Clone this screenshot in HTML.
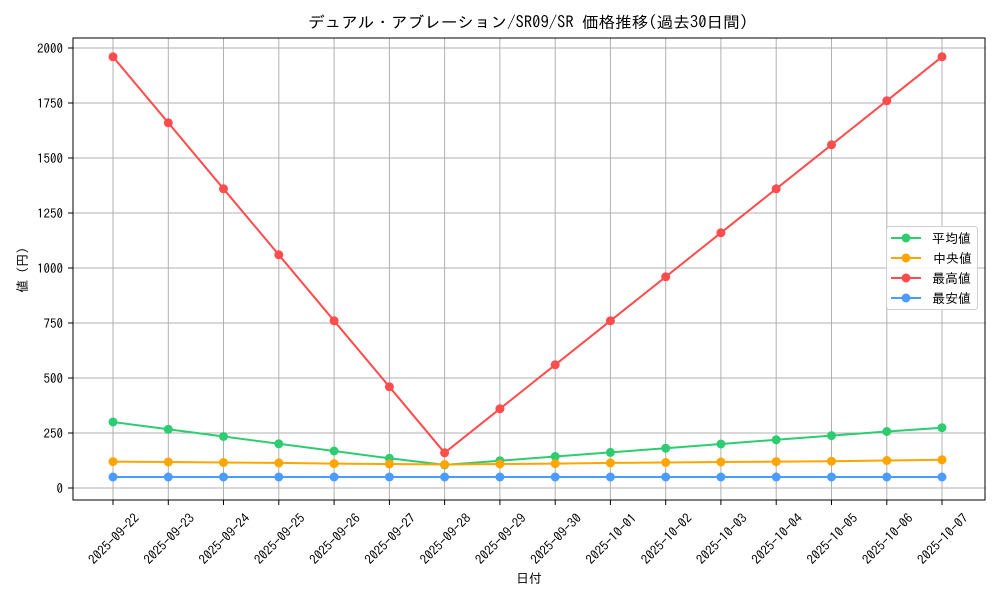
<!DOCTYPE html><html><head><meta charset="utf-8"><style>body{margin:0;background:#fff}svg{display:block;font-family:"IPAGothic","Noto Sans CJK JP",sans-serif}</style></head><body>
<svg width="1000" height="600" xmlns="http://www.w3.org/2000/svg">
<rect width="1000" height="600" fill="#fff"/>
<text x="308" y="28" font-size="16" textLength="440" lengthAdjust="spacingAndGlyphs" fill="#000">デュアル・アブレーション/SR09/SR 価格推移(過去30日間)</text>
<g stroke="#b0b0b0" stroke-width="1">
<line x1="73" x2="985" y1="488" y2="488"/><line x1="73" x2="985" y1="433" y2="433"/><line x1="73" x2="985" y1="378" y2="378"/><line x1="73" x2="985" y1="323" y2="323"/><line x1="73" x2="985" y1="268" y2="268"/><line x1="73" x2="985" y1="213" y2="213"/><line x1="73" x2="985" y1="158" y2="158"/><line x1="73" x2="985" y1="103" y2="103"/><line x1="73" x2="985" y1="48" y2="48"/>
<line x1="113" x2="113" y1="38" y2="500"/><line x1="168.3" x2="168.3" y1="38" y2="500"/><line x1="223.5" x2="223.5" y1="38" y2="500"/><line x1="278.8" x2="278.8" y1="38" y2="500"/><line x1="334.1" x2="334.1" y1="38" y2="500"/><line x1="389.4" x2="389.4" y1="38" y2="500"/><line x1="444.6" x2="444.6" y1="38" y2="500"/><line x1="499.9" x2="499.9" y1="38" y2="500"/><line x1="555.2" x2="555.2" y1="38" y2="500"/><line x1="610.4" x2="610.4" y1="38" y2="500"/><line x1="665.7" x2="665.7" y1="38" y2="500"/><line x1="720.9" x2="720.9" y1="38" y2="500"/><line x1="776.2" x2="776.2" y1="38" y2="500"/><line x1="831.5" x2="831.5" y1="38" y2="500"/><line x1="886.8" x2="886.8" y1="38" y2="500"/><line x1="942" x2="942" y1="38" y2="500"/>
</g>
<rect x="73" y="38" width="912" height="462" fill="none" stroke="#000" stroke-width="1"/>
<g font-size="13" text-anchor="end" fill="#000">
<text x="63" y="493">0</text><text x="63" y="438">250</text><text x="63" y="383">500</text><text x="63" y="328">750</text><text x="63" y="273">1000</text><text x="63" y="218">1250</text><text x="63" y="163">1500</text><text x="63" y="108">1750</text><text x="63" y="53">2000</text>
</g>
<g stroke="#000"><line x1="68" x2="73" y1="488" y2="488"/><line x1="68" x2="73" y1="433" y2="433"/><line x1="68" x2="73" y1="378" y2="378"/><line x1="68" x2="73" y1="323" y2="323"/><line x1="68" x2="73" y1="268" y2="268"/><line x1="68" x2="73" y1="213" y2="213"/><line x1="68" x2="73" y1="158" y2="158"/><line x1="68" x2="73" y1="103" y2="103"/><line x1="68" x2="73" y1="48" y2="48"/>
<line x1="113" x2="113" y1="500" y2="505"/><line x1="168.3" x2="168.3" y1="500" y2="505"/><line x1="223.5" x2="223.5" y1="500" y2="505"/><line x1="278.8" x2="278.8" y1="500" y2="505"/><line x1="334.1" x2="334.1" y1="500" y2="505"/><line x1="389.4" x2="389.4" y1="500" y2="505"/><line x1="444.6" x2="444.6" y1="500" y2="505"/><line x1="499.9" x2="499.9" y1="500" y2="505"/><line x1="555.2" x2="555.2" y1="500" y2="505"/><line x1="610.4" x2="610.4" y1="500" y2="505"/><line x1="665.7" x2="665.7" y1="500" y2="505"/><line x1="720.9" x2="720.9" y1="500" y2="505"/><line x1="776.2" x2="776.2" y1="500" y2="505"/><line x1="831.5" x2="831.5" y1="500" y2="505"/><line x1="886.8" x2="886.8" y1="500" y2="505"/><line x1="942" x2="942" y1="500" y2="505"/></g>
<g font-size="13" text-anchor="middle" fill="#000">
<text transform="translate(117,542) rotate(-45)">2025-09-22</text><text transform="translate(172.3,542) rotate(-45)">2025-09-23</text><text transform="translate(227.5,542) rotate(-45)">2025-09-24</text><text transform="translate(282.8,542) rotate(-45)">2025-09-25</text><text transform="translate(338.1,542) rotate(-45)">2025-09-26</text><text transform="translate(393.4,542) rotate(-45)">2025-09-27</text><text transform="translate(448.6,542) rotate(-45)">2025-09-28</text><text transform="translate(503.9,542) rotate(-45)">2025-09-29</text><text transform="translate(559.2,542) rotate(-45)">2025-09-30</text><text transform="translate(614.4,542) rotate(-45)">2025-10-01</text><text transform="translate(669.7,542) rotate(-45)">2025-10-02</text><text transform="translate(724.9,542) rotate(-45)">2025-10-03</text><text transform="translate(780.2,542) rotate(-45)">2025-10-04</text><text transform="translate(835.5,542) rotate(-45)">2025-10-05</text><text transform="translate(890.8,542) rotate(-45)">2025-10-06</text><text transform="translate(946,542) rotate(-45)">2025-10-07</text>
</g>
<text x="529" y="583" font-size="13" text-anchor="middle">日付</text>
<text transform="translate(27,270) rotate(-90)" font-size="13" text-anchor="middle">値 (円)</text>
<polyline fill="none" stroke="#2ecc71" stroke-width="2" points="113,422 168.3,429.3 223.5,436.5 278.8,443.8 334.1,451 389.4,458.3 444.6,464.9 499.9,460.7 555.2,456.5 610.4,452.4 665.7,448.2 720.9,444 776.2,439.8 831.5,435.6 886.8,431.5 942,427.7"/>
<polyline fill="none" stroke="#ffa500" stroke-width="2" points="113,461.6 168.3,462 223.5,462.5 278.8,462.9 334.1,463.6 389.4,464 444.6,464.5 499.9,464 555.2,463.6 610.4,462.9 665.7,462.5 720.9,462 776.2,461.6 831.5,461.2 886.8,460.5 942,459.8"/>
<polyline fill="none" stroke="#ff4c4c" stroke-width="2" points="113,56.8 168.3,122.8 223.5,188.8 278.8,254.8 334.1,320.8 389.4,386.8 444.6,452.8 499.9,408.8 555.2,364.8 610.4,320.8 665.7,276.8 720.9,232.8 776.2,188.8 831.5,144.8 886.8,100.8 942,56.8"/>
<polyline fill="none" stroke="#4c9bff" stroke-width="2" points="113,477 942,477"/>
<g fill="#2ecc71"><circle cx="113" cy="422" r="4.5"/><circle cx="168.3" cy="429.3" r="4.5"/><circle cx="223.5" cy="436.5" r="4.5"/><circle cx="278.8" cy="443.8" r="4.5"/><circle cx="334.1" cy="451" r="4.5"/><circle cx="389.4" cy="458.3" r="4.5"/><circle cx="444.6" cy="464.9" r="4.5"/><circle cx="499.9" cy="460.7" r="4.5"/><circle cx="555.2" cy="456.5" r="4.5"/><circle cx="610.4" cy="452.4" r="4.5"/><circle cx="665.7" cy="448.2" r="4.5"/><circle cx="720.9" cy="444" r="4.5"/><circle cx="776.2" cy="439.8" r="4.5"/><circle cx="831.5" cy="435.6" r="4.5"/><circle cx="886.8" cy="431.5" r="4.5"/><circle cx="942" cy="427.7" r="4.5"/></g>
<g fill="#ffa500"><circle cx="113" cy="461.6" r="4.5"/><circle cx="168.3" cy="462" r="4.5"/><circle cx="223.5" cy="462.5" r="4.5"/><circle cx="278.8" cy="462.9" r="4.5"/><circle cx="334.1" cy="463.6" r="4.5"/><circle cx="389.4" cy="464" r="4.5"/><circle cx="444.6" cy="464.5" r="4.5"/><circle cx="499.9" cy="464" r="4.5"/><circle cx="555.2" cy="463.6" r="4.5"/><circle cx="610.4" cy="462.9" r="4.5"/><circle cx="665.7" cy="462.5" r="4.5"/><circle cx="720.9" cy="462" r="4.5"/><circle cx="776.2" cy="461.6" r="4.5"/><circle cx="831.5" cy="461.2" r="4.5"/><circle cx="886.8" cy="460.5" r="4.5"/><circle cx="942" cy="459.8" r="4.5"/></g>
<g fill="#ff4c4c"><circle cx="113" cy="56.8" r="4.5"/><circle cx="168.3" cy="122.8" r="4.5"/><circle cx="223.5" cy="188.8" r="4.5"/><circle cx="278.8" cy="254.8" r="4.5"/><circle cx="334.1" cy="320.8" r="4.5"/><circle cx="389.4" cy="386.8" r="4.5"/><circle cx="444.6" cy="452.8" r="4.5"/><circle cx="499.9" cy="408.8" r="4.5"/><circle cx="555.2" cy="364.8" r="4.5"/><circle cx="610.4" cy="320.8" r="4.5"/><circle cx="665.7" cy="276.8" r="4.5"/><circle cx="720.9" cy="232.8" r="4.5"/><circle cx="776.2" cy="188.8" r="4.5"/><circle cx="831.5" cy="144.8" r="4.5"/><circle cx="886.8" cy="100.8" r="4.5"/><circle cx="942" cy="56.8" r="4.5"/></g>
<g fill="#4c9bff"><circle cx="113" cy="477" r="4.5"/><circle cx="168.3" cy="477" r="4.5"/><circle cx="223.5" cy="477" r="4.5"/><circle cx="278.8" cy="477" r="4.5"/><circle cx="334.1" cy="477" r="4.5"/><circle cx="389.4" cy="477" r="4.5"/><circle cx="444.6" cy="477" r="4.5"/><circle cx="499.9" cy="477" r="4.5"/><circle cx="555.2" cy="477" r="4.5"/><circle cx="610.4" cy="477" r="4.5"/><circle cx="665.7" cy="477" r="4.5"/><circle cx="720.9" cy="477" r="4.5"/><circle cx="776.2" cy="477" r="4.5"/><circle cx="831.5" cy="477" r="4.5"/><circle cx="886.8" cy="477" r="4.5"/><circle cx="942" cy="477" r="4.5"/></g>
<rect x="886.5" y="226.5" width="91" height="83" rx="3" fill="#fff" fill-opacity="0.85" stroke="#d0d0d0"/>
<g stroke-width="2"><line x1="891" x2="921" y1="238" y2="238" stroke="#2ecc71"/><line x1="891" x2="921" y1="258" y2="258" stroke="#ffa500"/><line x1="891" x2="921" y1="278" y2="278" stroke="#ff4c4c"/><line x1="891" x2="921" y1="298" y2="298" stroke="#4c9bff"/></g>
<circle cx="906" cy="238" r="4.5" fill="#2ecc71"/><circle cx="906" cy="258" r="4.5" fill="#ffa500"/><circle cx="906" cy="278" r="4.5" fill="#ff4c4c"/><circle cx="906" cy="298" r="4.5" fill="#4c9bff"/>
<g font-size="13" fill="#000"><text x="932" y="243">平均値</text><text x="933" y="263">中央値</text><text x="932" y="283">最高値</text><text x="932" y="303">最安値</text></g>
</svg>
</body></html>
